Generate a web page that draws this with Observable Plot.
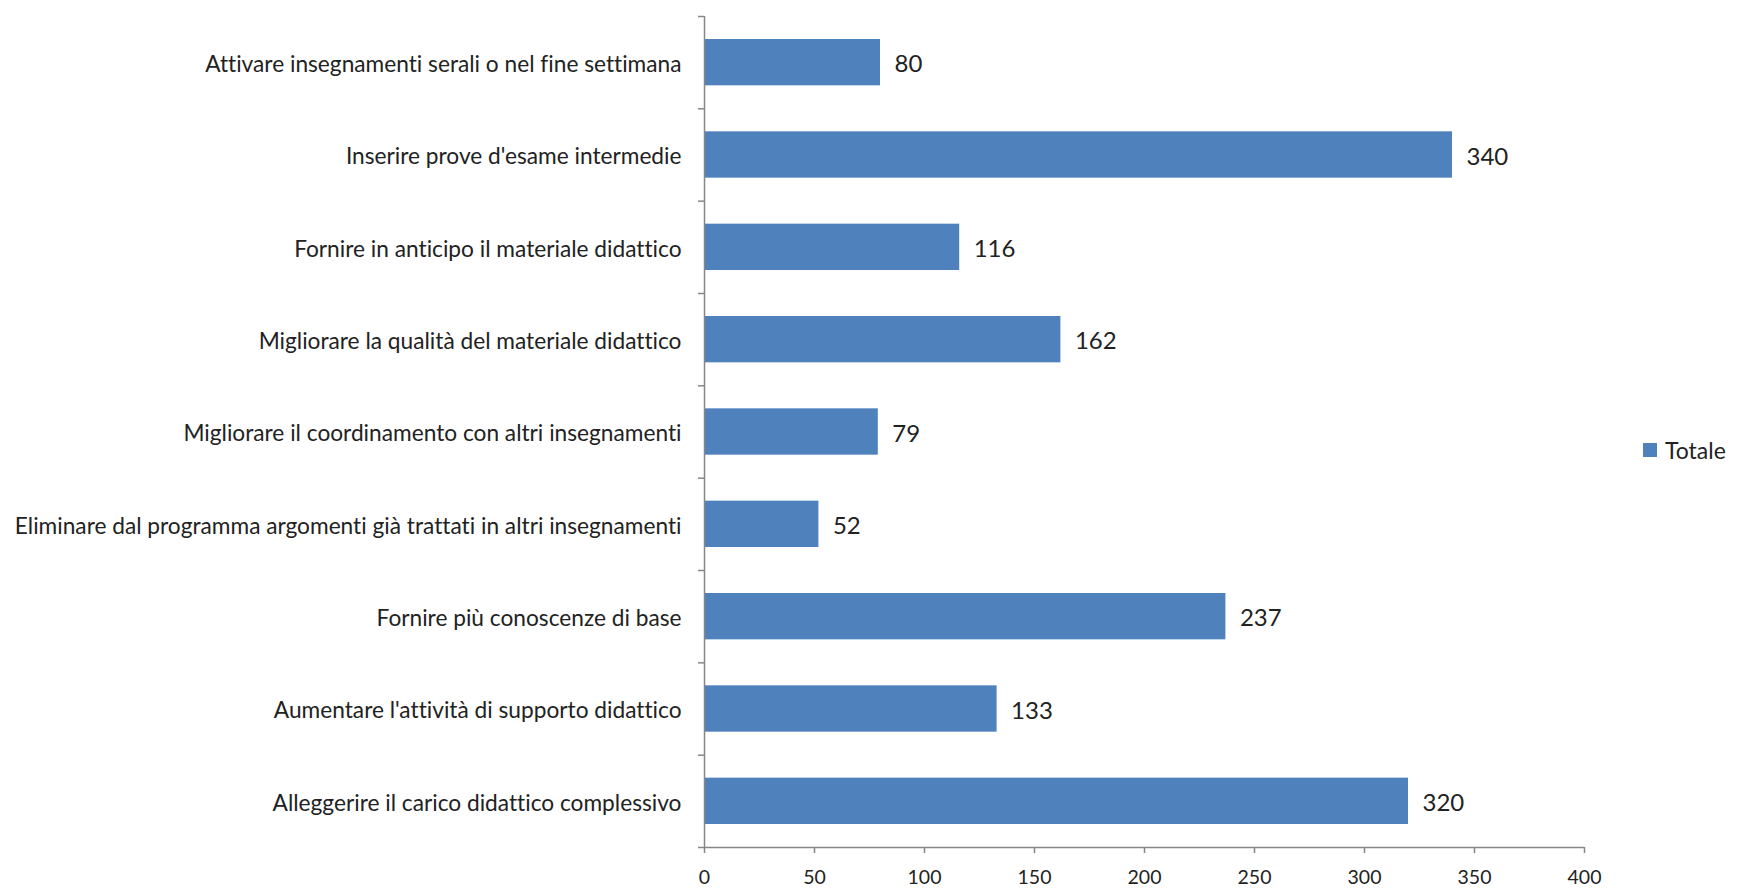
<!DOCTYPE html>
<html>
<head>
<meta charset="utf-8">
<script src="https://cdn.jsdelivr.net/npm/d3@7"></script>
<script src="https://cdn.jsdelivr.net/npm/@observablehq/plot@0.6"></script>
<style>
  html, body { margin: 0; padding: 0; background: #fff; }
  #wrap { position: relative; width: 1737px; height: 890px; }
  #wrap svg, #wrap svg text { font-variant-ligatures: none; font-feature-settings: "liga" 0, "clig" 0; }
  #legend { position: absolute; left: 1643px; top: 436px; display: flex; align-items: center;
            font-family: Lato, "Open Sans", sans-serif; font-size: 23px; color: #222; }
  #legend .sw { width: 14px; height: 14px; background: #4F81BD; margin-right: 8px; }
</style>
</head>
<body>
<div id="wrap"><div id="legend"><span class="sw"></span><span>Totale</span></div></div>
<script>
const categories = [
  "Attivare insegnamenti serali o nel fine settimana",
  "Inserire prove d'esame intermedie",
  "Fornire in anticipo il materiale didattico",
  "Migliorare la qualità del materiale didattico",
  "Migliorare il coordinamento con altri insegnamenti",
  "Eliminare dal programma argomenti già trattati in altri insegnamenti",
  "Fornire più conoscenze di base",
  "Aumentare l'attività di supporto didattico",
  "Alleggerire il carico didattico complessivo"
];
const values = [80, 340, 116, 162, 79, 52, 237, 133, 320];
const xTicks = [0, 50, 100, 150, 200, 250, 300, 350, 400];
const seriesName = "Totale";

const data = categories.map((c, i) => ({category: c, value: values[i], i}));
const axisGray = "#868686";
const font = "Lato, 'Open Sans', sans-serif";

const chart = Plot.plot({
  width: 1737,
  height: 890,
  marginLeft: 704,
  marginRight: 153,
  marginTop: 16,
  marginBottom: 43,
  style: {fontFamily: font, color: "#222", background: "#fff"},
  x: {domain: [0, 400], label: null},
  y: {domain: [0, categories.length], reverse: true, label: null},
  marks: [
    Plot.rectX(data, {x1: 0, x2: "value", y1: "i", y2: d => d.i + 1, insetTop: 23, insetBottom: 23, fill: "#4F81BD"}),
    Plot.text(data, {x: "value", y: d => d.i + 0.5, text: d => String(d.value), dx: 14, dy: 2, textAnchor: "start", fontSize: 24, fill: "#222"}),
    Plot.axisY(d3.range(categories.length + 1), {tickSize: 6, tickFormat: () => "", stroke: axisGray, strokeWidth: 1.5, label: null}),
    Plot.axisY(d3.range(categories.length).map(i => i + 0.5), {tickSize: 0, tickPadding: 23, dy: 2, fontSize: 22.7, tickFormat: v => categories[Math.floor(v)], label: null}),
    Plot.axisX(xTicks, {tickSize: 6, tickPadding: 17, fontSize: 19.5, stroke: axisGray, strokeWidth: 1.5, label: null}),
    Plot.ruleX([0], {stroke: axisGray, strokeWidth: 1.5}),
    Plot.ruleY([categories.length], {stroke: axisGray, strokeWidth: 1.5})
  ]
});
document.getElementById("wrap").prepend(chart);
</script>
</body>
</html>
